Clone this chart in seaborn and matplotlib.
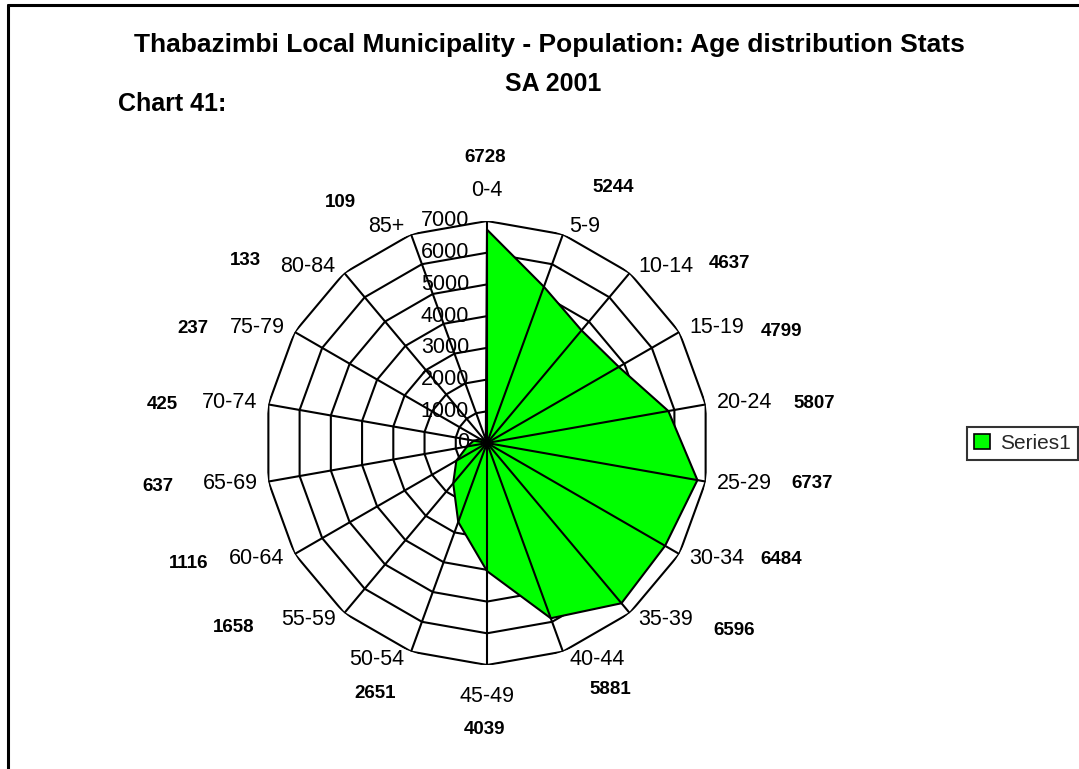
import numpy as np
import matplotlib
matplotlib.use("Agg")
import matplotlib.pyplot as plt
from matplotlib.lines import Line2D
from matplotlib.patches import Patch
import seaborn as sns

# Age groups and population counts
age_groups = ["0-4", "5-9", "10-14", "15-19", "20-24", "25-29", "30-34", "35-39",
              "40-44", "45-49", "50-54", "55-59", "60-64", "65-69", "70-74",
              "75-79", "80-84", "85+"]
population = [6728, 5244, 4637, 4799, 5807, 6737, 6484, 6596,
              5881, 4039, 2651, 1658, 1116, 637, 425, 237, 133, 109]
ring_values = [0, 1000, 2000, 3000, 4000, 5000, 6000, 7000]
series_name = "Series1"

# Value-label placement: pixel offsets (dx right, dy down) from each outer vertex
value_label_offsets = [(-2, -64), (50, -47), (100, -9), (102, -1), (109, -1),
                       (106, 2), (102, 5), (104, 17), (47, 38), (-2, 65),
                       (-36, 42), (-111, 14), (-106, 10), (-110, 5), (-106, 0),
                       (-102, -4), (-99, -12), (-71, -32)]

sns.set_theme(style="white")
plt.rcParams["font.family"] = ["Liberation Sans", "DejaVu Sans"]

W, H, DPI = 1079, 769, 100
fig = plt.figure(figsize=(W / DPI, H / DPI), dpi=DPI)
fig.patch.set_facecolor("white")

PX2PT = 72.0 / DPI
cx, cy, R = 487, 443, 222  # chart centre and outer radius in pixels
ax = fig.add_axes([(cx - R) / W, 1 - (cy + R) / H, 2 * R / W, 2 * R / H],
                  projection="polar")
ax.set_theta_zero_location("N")
ax.set_theta_direction(-1)
ax.set_ylim(0, ring_values[-1])
ax.grid(False)
ax.set_xticks([])
ax.set_yticks([])
ax.spines["polar"].set_visible(False)
ax.patch.set_alpha(0)

n = len(age_groups)
theta = np.arange(n) * 2 * np.pi / n
theta_closed = np.append(theta, theta[0] + 2 * np.pi)
lw = 1.5
ink = "black"

# polygonal rings
for rv in ring_values[1:]:
    ax.plot(theta_closed, [rv] * (n + 1), color=ink, lw=lw, zorder=1,
            solid_joinstyle="miter")

# filled series
vals_closed = np.append(population, population[0])
ax.fill(theta_closed, vals_closed, color="#00FF00", zorder=2, lw=0)
sns.lineplot(x=theta_closed, y=vals_closed, sort=False, estimator=None,
             color=ink, lw=lw, ax=ax, zorder=4)
ax.set_xlabel("")
ax.set_ylabel("")

# spokes
for t in theta:
    ax.plot([t, t], [0, ring_values[-1]], color=ink, lw=lw, zorder=3)

# radial value labels along the first spoke
for rv in ring_values:
    ax.annotate(str(rv), xy=(0, rv), xytext=(-18 * PX2PT, 0),
                textcoords="offset points", ha="right", va="center",
                fontsize=15.5, color=ink, zorder=5)

# category labels and value labels
for i, (t, lab, v) in enumerate(zip(theta, age_groups, population)):
    s, c = np.sin(t), np.cos(t)
    if abs(s) < 1e-6:
        dx, dy, ha = 0.0, -31.0 * np.sign(c), "center"
    else:
        dx = 11.0 * np.sign(s) * np.sqrt(abs(s))
        dy = -8.5 * c
        ha = "left" if s > 0 else "right"
    ax.annotate(lab, xy=(t, ring_values[-1]), xytext=(dx * PX2PT, -dy * PX2PT),
                textcoords="offset points", ha=ha, va="center",
                fontsize=15.5, color=ink, annotation_clip=False)
    ox, oy = value_label_offsets[i]
    ax.annotate(f"{v}", xy=(t, ring_values[-1]), xytext=(ox * PX2PT, -oy * PX2PT),
                textcoords="offset points", ha="center", va="center",
                fontsize=13.5, fontweight="bold", color=ink,
                annotation_clip=False)

# titles
fig.text(549 / W, 1 - 45 / H,
         "Thabazimbi Local Municipality - Population: Age distribution Stats",
         ha="center", va="center", fontsize=19, fontweight="bold", color=ink)
fig.text(553 / W, 1 - 84 / H, "SA 2001", ha="center", va="center",
         fontsize=18, fontweight="bold", color=ink)
fig.text(118 / W, 1 - 104 / H, "Chart 41:", ha="left", va="center",
         fontsize=18, fontweight="bold", color=ink)

# legend
handle = Patch(facecolor="#00FF00", edgecolor="black", lw=1.2)
leg = fig.legend([handle], [series_name], loc="center left",
                 bbox_to_anchor=(967 / W, 1 - 443.5 / H), frameon=True,
                 fancybox=False, fontsize=15, handlelength=0.75,
                 handleheight=0.75, handletextpad=0.5, borderpad=0.35,
                 borderaxespad=0)
leg.get_frame().set_edgecolor("black")
leg.get_frame().set_linewidth(1.5)

# chart-area border (runs off the right and bottom edges)
fig.add_artist(Line2D([8 / W, 1.1], [1 - 5 / H, 1 - 5 / H], color="black",
                      lw=2.2, transform=fig.transFigure))
fig.add_artist(Line2D([8 / W, 8 / W], [1 - 5 / H, -0.1], color="black",
                      lw=2.2, transform=fig.transFigure))

fig.savefig("out.png", dpi=DPI)
